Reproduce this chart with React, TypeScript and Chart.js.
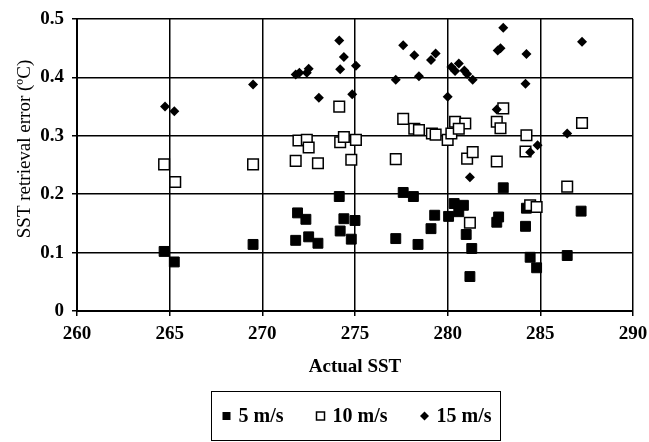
import React, { useEffect, useRef } from 'react';
import { Chart, registerables } from 'chart.js';

Chart.register(...registerables);

// ---- Data ----
const seriesNames = ['5 m/s', '10 m/s', '15 m/s'];
const xTitle = 'Actual SST';
const yTitle = 'SST retrieval error (ºC)';
const xTickLabels = ['260', '265', '270', '275', '280', '285', '290'];
const yTickLabels = ['0', '0.1', '0.2', '0.3', '0.4', '0.5'];

const sst5 = [264.7, 265.25, 269.5, 271.8, 271.9, 272.35, 272.5, 273.0, 274.15, 274.2, 274.4, 274.8, 275.0, 277.2, 277.6, 278.15, 278.4, 279.1, 279.3, 280.05, 280.35, 280.6, 280.85, 281.0, 281.3, 281.2, 282.65, 282.75, 283.0, 284.2, 284.25, 284.45, 284.8, 286.45, 287.2];
const err5 = [0.102, 0.084, 0.114, 0.121, 0.168, 0.157, 0.127, 0.116, 0.196, 0.137, 0.158, 0.123, 0.155, 0.124, 0.203, 0.196, 0.114, 0.141, 0.164, 0.162, 0.184, 0.170, 0.181, 0.131, 0.107, 0.059, 0.152, 0.161, 0.211, 0.145, 0.176, 0.092, 0.074, 0.095, 0.171];

const sst10 = [264.7, 265.3, 269.5, 271.8, 271.95, 272.4, 272.5, 273.0, 274.15, 274.2, 274.4, 274.8, 275.05, 277.2, 277.6, 278.2, 278.45, 279.15, 279.35, 280.0, 280.2, 280.4, 280.95, 280.6, 281.05, 281.35, 281.2, 282.65, 282.65, 282.85, 283.0, 284.2, 284.25, 284.45, 284.8, 286.45, 287.25];
const err10 = [0.251, 0.221, 0.251, 0.257, 0.292, 0.293, 0.280, 0.253, 0.350, 0.289, 0.298, 0.259, 0.293, 0.260, 0.329, 0.312, 0.310, 0.304, 0.302, 0.293, 0.304, 0.324, 0.321, 0.312, 0.261, 0.272, 0.151, 0.256, 0.324, 0.313, 0.347, 0.273, 0.301, 0.181, 0.178, 0.213, 0.322];

const sst15 = [264.75, 265.25, 269.5, 271.8, 272.0, 272.4, 272.5, 273.05, 274.15, 274.4, 274.2, 274.85, 275.05, 277.2, 277.6, 278.2, 278.45, 279.1, 279.35, 280.0, 280.2, 280.4, 280.6, 280.9, 281.05, 281.35, 281.2, 282.65, 282.7, 282.85, 283.0, 284.2, 284.25, 284.45, 284.85, 286.45, 287.25];
const err15 = [0.350, 0.342, 0.388, 0.405, 0.408, 0.408, 0.415, 0.365, 0.463, 0.435, 0.414, 0.371, 0.420, 0.396, 0.455, 0.438, 0.402, 0.430, 0.441, 0.367, 0.418, 0.411, 0.424, 0.412, 0.406, 0.396, 0.229, 0.345, 0.446, 0.450, 0.485, 0.389, 0.440, 0.272, 0.284, 0.304, 0.461];

const toPoints = (xs: number[], ys: number[]) => xs.map((x, i) => ({ x, y: ys[i] }));

const FONT = 'Liberation Serif';

const extrasPlugin = {
  id: 'extras',
  afterDraw(chart: any) {
    const ctx: CanvasRenderingContext2D = chart.ctx;
    const area = chart.chartArea;
    // y-axis title
    ctx.save();
    ctx.font = `19px "${FONT}"`;
    ctx.fillStyle = '#000';
    ctx.textAlign = 'center';
    ctx.textBaseline = 'middle';
    ctx.translate(25, (area.top + area.bottom) / 2 - 16);
    ctx.rotate(-Math.PI / 2);
    ctx.fillText(yTitle, 0, 0);
    ctx.restore();

    // legend box
    ctx.save();
    const cx = (area.left + area.right) / 2;
    const boxW = 289;
    const boxTop = area.bottom + 80;
    const boxH = 49;
    ctx.strokeStyle = '#000';
    ctx.lineWidth = 1;
    ctx.strokeRect(Math.round(cx - boxW / 2) + 0.5, Math.round(boxTop) + 0.5, boxW, boxH);
    ctx.font = `bold 20px "${FONT}"`;
    ctx.textBaseline = 'middle';
    ctx.textAlign = 'left';
    const gapText = 12;
    const gapItem = 29;
    const half = 4;
    const widths = seriesNames.map((n) => ctx.measureText(n).width);
    const total = widths.reduce((a, w) => a + half + gapText + w, 0) + gapItem * (seriesNames.length - 1) + half;
    let x = cx - total / 2 + half;
    const cy = boxTop + 25;
    seriesNames.forEach((name, i) => {
      ctx.fillStyle = '#000';
      ctx.strokeStyle = '#000';
      if (i === 0) {
        ctx.fillRect(x - 4, cy - 4, 8, 8);
      } else if (i === 1) {
        ctx.fillStyle = '#fff';
        ctx.fillRect(x - 4, cy - 4, 8, 8);
        ctx.lineWidth = 1.5;
        ctx.strokeRect(x - 4, cy - 4, 8, 8);
      } else {
        ctx.beginPath();
        ctx.moveTo(x - 4.5, cy);
        ctx.lineTo(x, cy - 4.5);
        ctx.lineTo(x + 4.5, cy);
        ctx.lineTo(x, cy + 4.5);
        ctx.closePath();
        ctx.fill();
      }
      ctx.fillStyle = '#000';
      ctx.fillText(name, x + gapText, cy + 1);
      x += gapText + widths[i] + gapItem + half * 2;
    });
    ctx.restore();
  },
};

export default function App() {
  const ref = useRef<HTMLCanvasElement | null>(null);

  useEffect(() => {
    if (!ref.current) return;
    const tickFont = { family: FONT, size: 19, weight: 'bold' as const };
    const chart = new Chart(ref.current, {
      type: 'scatter',
      data: {
        datasets: [
          {
            label: seriesNames[0],
            data: toPoints(sst5, err5),
            pointStyle: 'rect',
            pointRadius: 7,
            backgroundColor: '#000',
            borderColor: '#000',
            borderWidth: 1,
            order: 3,
          },
          {
            label: seriesNames[1],
            data: toPoints(sst10, err10),
            pointStyle: 'rect',
            pointRadius: 7.5,
            backgroundColor: '#fff',
            borderColor: '#000',
            borderWidth: 1.5,
            order: 2,
          },
          {
            label: seriesNames[2],
            data: toPoints(sst15, err15),
            pointStyle: 'rectRot',
            pointRadius: 5,
            backgroundColor: '#000',
            borderColor: '#000',
            borderWidth: 0,
            order: 1,
          },
        ],
      },
      options: {
        animation: false,
        responsive: false,
        devicePixelRatio: 1,
        layout: { padding: { top: 19, right: 16, bottom: 61, left: 0 } },
        plugins: {
          legend: { display: false },
          tooltip: { enabled: false },
        },
        scales: {
          x: {
            type: 'linear',
            min: 260,
            max: 290,
            afterFit: (s: any) => {
              s.height = 70;
              s.paddingLeft = 0;
              s.paddingRight = 0;
            },
            ticks: {
              stepSize: 5,
              color: '#000',
              font: tickFont,
              padding: 7,
              maxRotation: 0,
              callback: (_v: any, i: number) => xTickLabels[i],
            },
            grid: { color: '#000', lineWidth: 1.5, tickLength: 5, tickColor: '#000' },
            border: { display: true, color: '#000', width: 2 },
            title: {
              display: true,
              text: xTitle,
              color: '#000',
              font: { family: FONT, size: 19, weight: 'bold' },
              padding: { top: 0, bottom: 3 },
            },
          },
          y: {
            type: 'linear',
            min: 0,
            max: 0.5,
            afterFit: (s: any) => {
              s.width = 77;
              s.paddingTop = 0;
              s.paddingBottom = 0;
            },
            ticks: {
              stepSize: 0.1,
              color: '#000',
              font: tickFont,
              padding: 8,
              callback: (_v: any, i: number) => yTickLabels[i],
            },
            grid: { color: '#000', lineWidth: 1.5, tickLength: 5, tickColor: '#000' },
            border: { display: true, color: '#000', width: 2 },
          },
        },
      },
      plugins: [extrasPlugin],
    });
    return () => chart.destroy();
  }, []);

  return (
    <div style={{ position: 'absolute', left: 0, top: 0, width: 649, height: 442, background: '#fff' }}>
      <canvas ref={ref} width={649} height={442} style={{ display: 'block' }} />
    </div>
  );
}
